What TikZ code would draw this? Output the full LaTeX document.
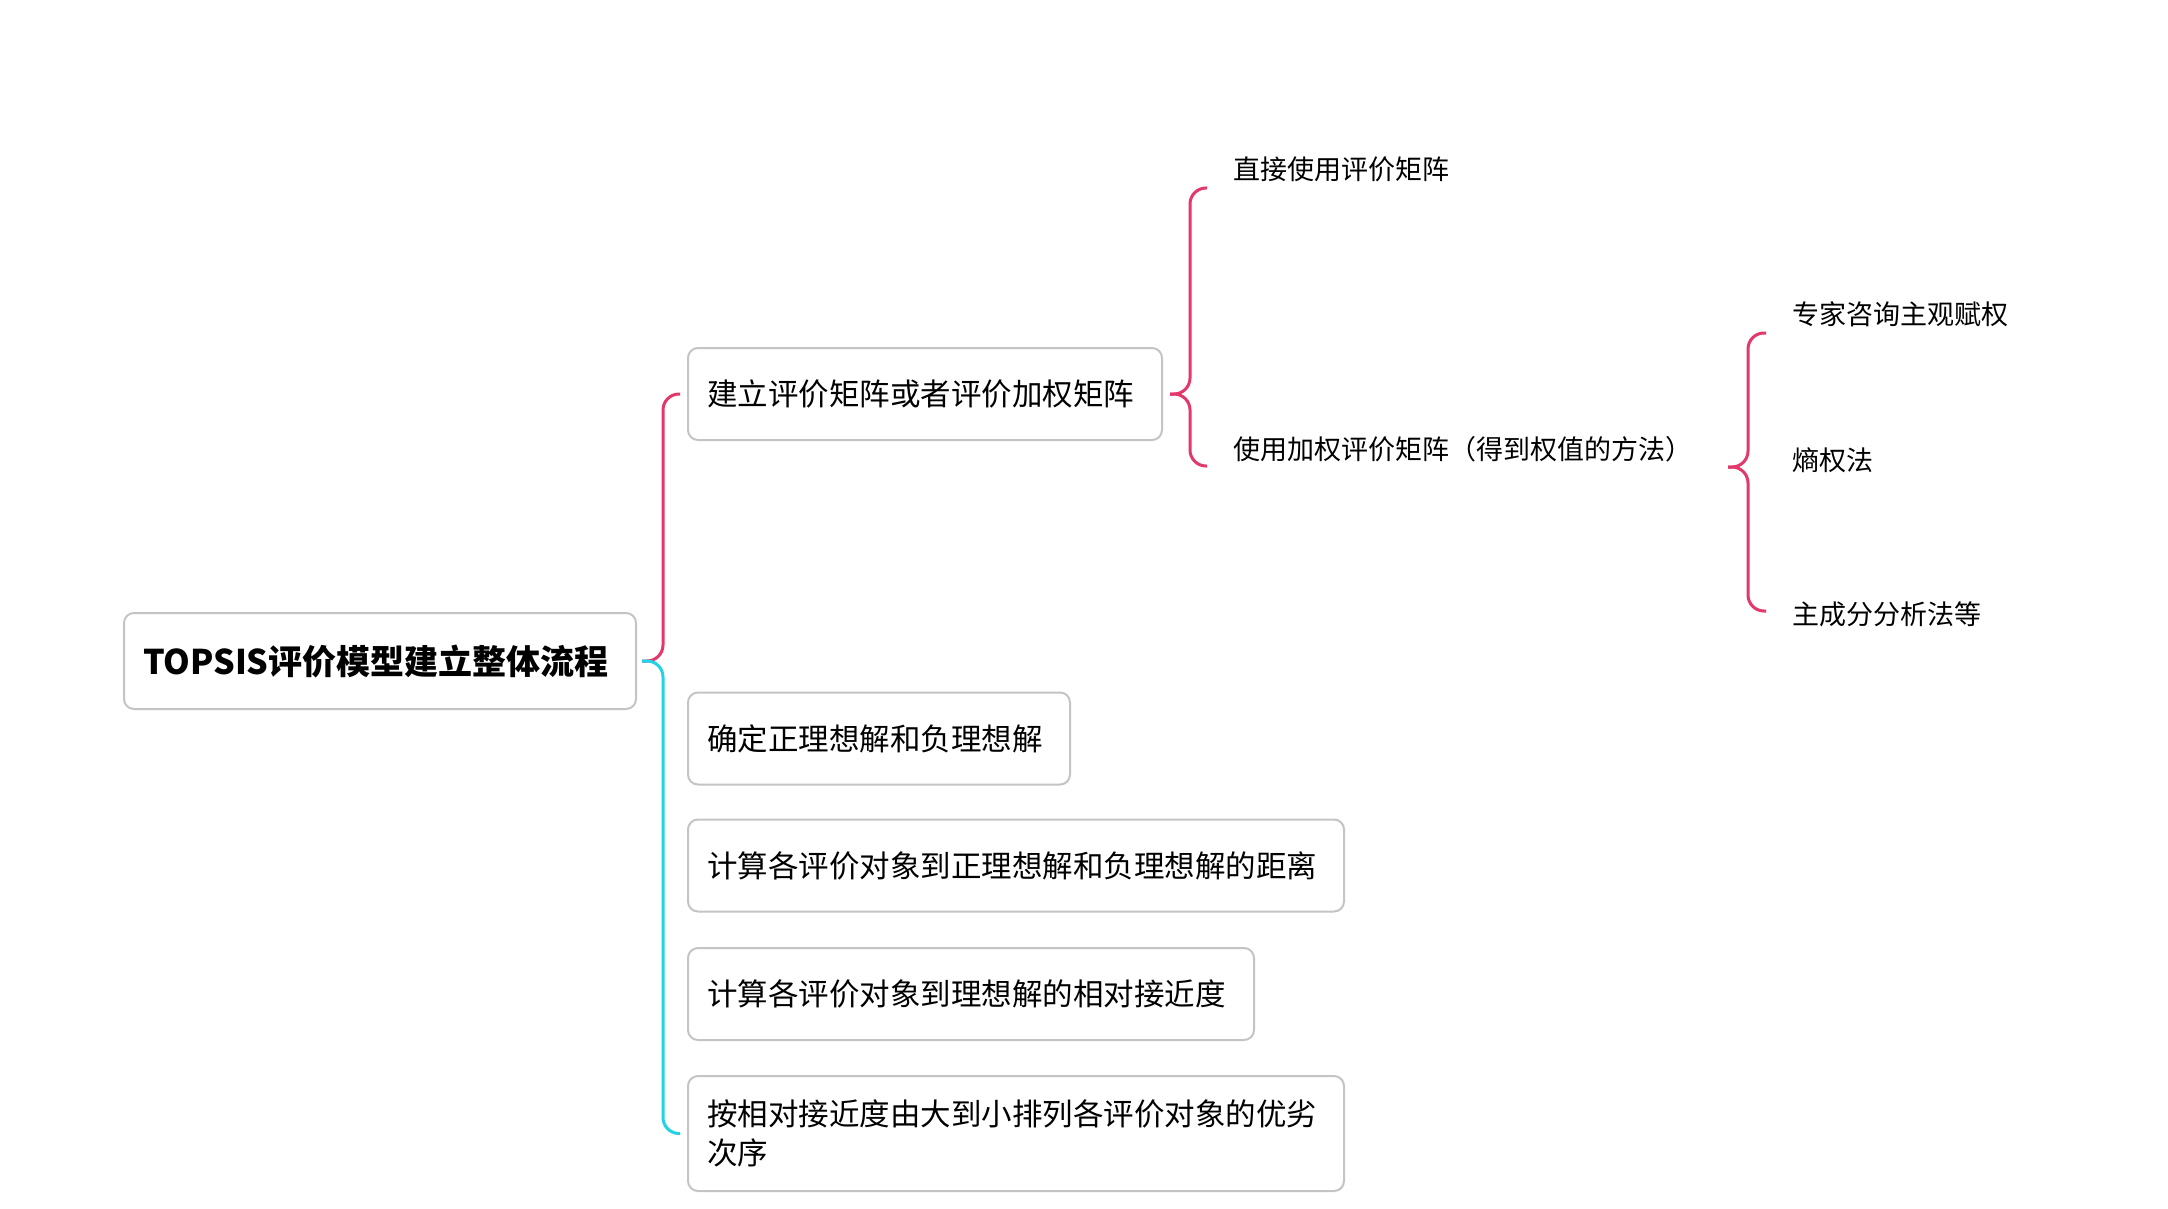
\documentclass[tikz,border=0pt]{standalone}
\usepackage{fontspec}
\setmainfont{Noto Sans CJK SC}
\usetikzlibrary{calc}
\definecolor{bred}{HTML}{E2386A}
\definecolor{bcyan}{HTML}{22D2E6}
\definecolor{bgray}{HTML}{C4C4C4}
\begin{document}
\begin{tikzpicture}[x=0.5pt,y=-0.5pt,
 box/.style={draw=bgray, line width=1pt, rounded corners=5pt, anchor=west, inner xsep=9.5pt, inner ysep=0pt, align=left, minimum height=46pt, font=\fontsize{15.25}{19.5}\selectfont},
 leaf/.style={anchor=west, inner sep=0pt, font=\fontsize{13.5}{16}\selectfont},
 brace/.style={line width=1.5pt, rounded corners=8pt}]
\useasboundingbox[fill=white] (0,0) rectangle (2168,1209);
\node[box, text width=237pt, minimum height=48pt, font=\bfseries\fontsize{17}{20}\selectfont] (root) at (123,661) {TOPSIS评价模型建立整体流程};
\node[box, text width=218pt] (b1) at (687,394) {建立评价矩阵或者评价加权矩阵};
\node[box, text width=172pt] (b2) at (687,738.5) {确定正理想解和负理想解};
\node[box, text width=309pt] (b3) at (687,865.5) {计算各评价对象到正理想解和负理想解的距离};
\node[box, text width=264pt] (b4) at (687,994) {计算各评价对象到理想解的相对接近度};
\node[box, text width=309pt, minimum height=57.5pt] (b5) at (687,1133.5) {按相对接近度由大到小排列各评价对象的优劣\\次序};
\node[leaf] (t1) at (1233,169) {直接使用评价矩阵};
\node[leaf] (t2) at (1233,449) {使用加权评价矩阵（得到权值的方法）};
\node[leaf] (t3) at (1792,314) {专家咨询主观赋权};
\node[leaf] (t4) at (1792,460) {熵权法};
\node[leaf] (t5) at (1792,614) {主成分分析法等};
\draw[brace, bred] ($(root.east)+(5,0)$) -- ++(21,0) |- ($(b1.west)+(-7,0)$);
\draw[brace, bcyan] ($(root.east)+(5,0)$) -- ++(21,0) |- ($(b5.west)+(-7,0)$);
\draw[brace, bred] ($(b1.east)+(7,0)$) -- ++(20,0) |- ($(t1.west)+(-26,19)$);
\draw[brace, bred] ($(b1.east)+(7,0)$) -- ++(20,0) |- ($(t2.west)+(-26,17)$);
\coordinate (s3) at ($(t2.east -| t4.west)+(-64,18)$);
\draw[brace, bred] (s3) -- ++(20,0) |- ($(t3.west)+(-26,19)$);
\draw[brace, bred] (s3) -- ++(20,0) |- ($(t5.west)+(-26,-3)$);
\end{tikzpicture}
\end{document}
